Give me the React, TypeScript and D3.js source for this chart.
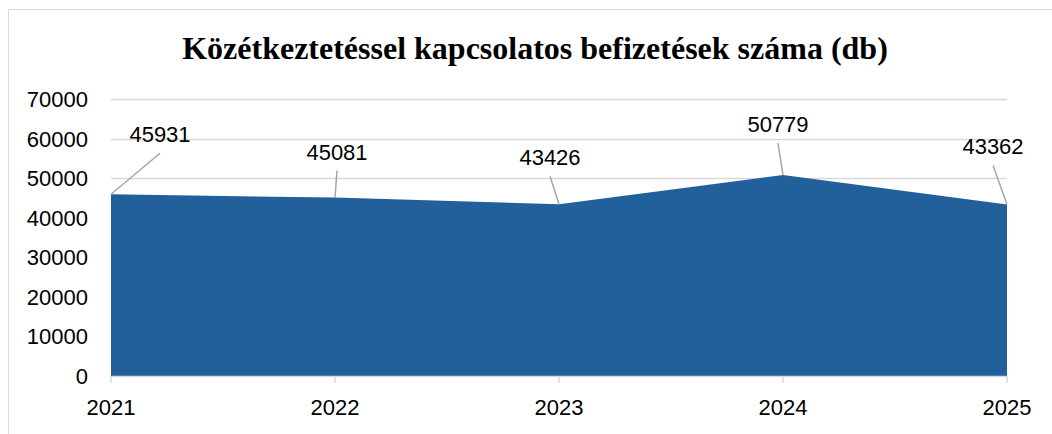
import React, { useEffect, useRef } from 'react';
import * as d3 from 'd3';

// chart data
const years = ['2021', '2022', '2023', '2024', '2025'];
const payments = [45931, 45081, 43426, 50779, 43362];
const yTicks = [0, 10000, 20000, 30000, 40000, 50000, 60000, 70000];

// where each data label sits, relative to its point (label centre x, baseline y)
const labelDx = [49, 2, -9, -5, -14];
const labelDy = [-52, -38, -39, -43, -50];

const App = () => {
  const chartRef = useRef<SVGSVGElement>(null);

  useEffect(() => {
    const width = 1052;
    const height = 434;
    const margin = { left: 111, right: 45, top: 99, bottom: 58 };

    const svg = d3.select(chartRef.current);
    svg.selectAll('*').remove();

    svg.append('rect')
      .attr('width', width)
      .attr('height', height)
      .attr('fill', '#ffffff');

    // outer chart frame (runs off the right and bottom of the picture)
    svg.append('rect')
      .attr('x', 8.5)
      .attr('y', 9.5)
      .attr('width', 1200)
      .attr('height', 600)
      .attr('fill', 'none')
      .attr('stroke', '#d9d9d9')
      .attr('stroke-width', 1);

    const x = d3.scalePoint()
      .domain(years)
      .range([margin.left, width - margin.right]);

    const y = d3.scaleLinear()
      .domain([0, 70000])
      .range([height - margin.bottom, margin.top]);

    // title
    svg.append('text')
      .attr('x', 535)
      .attr('y', 59)
      .attr('text-anchor', 'middle')
      .attr('font-family', '"Liberation Serif", "Times New Roman", serif')
      .attr('font-weight', 'bold')
      .attr('font-size', 32)
      .attr('fill', '#000')
      .text('Közétkeztetéssel kapcsolatos befizetések száma (db)');

    // gridlines
    svg.append('g')
      .selectAll('line')
      .data(yTicks.filter(d => d > 0))
      .join('line')
      .attr('x1', margin.left)
      .attr('x2', width - margin.right)
      .attr('y1', d => Math.round(y(d)) + 0.5)
      .attr('y2', d => Math.round(y(d)) + 0.5)
      .attr('stroke', '#d9d9d9')
      .attr('stroke-width', 1.5);

    // area
    const area = d3.area<number>()
      .x((_, i) => x(years[i]) as number)
      .y0(y(0))
      .y1(d => y(d));

    svg.append('path')
      .datum(payments)
      .attr('d', area)
      .attr('fill', '#22609b');

    // x axis line and ticks
    const xAxis = svg.append('g');
    xAxis.append('line')
      .attr('x1', margin.left)
      .attr('x2', width - margin.right)
      .attr('y1', y(0) + 0.5)
      .attr('y2', y(0) + 0.5)
      .attr('stroke', '#d9d9d9')
      .attr('stroke-width', 1.5);
    xAxis.selectAll('line.tick')
      .data(years)
      .join('line')
      .attr('class', 'tick')
      .attr('x1', d => x(d) as number)
      .attr('x2', d => x(d) as number)
      .attr('y1', y(0))
      .attr('y2', y(0) + 7)
      .attr('stroke', '#d9d9d9')
      .attr('stroke-width', 1.5);

    const font = '"Liberation Sans", Arial, sans-serif';

    xAxis.selectAll('text')
      .data(years)
      .join('text')
      .attr('x', d => x(d) as number)
      .attr('y', 415)
      .attr('text-anchor', 'middle')
      .attr('font-family', font)
      .attr('font-size', 22)
      .attr('fill', '#000')
      .text(d => d);

    // y axis labels
    svg.append('g')
      .selectAll('text')
      .data(yTicks)
      .join('text')
      .attr('x', 88)
      .attr('y', d => y(d) + 8)
      .attr('text-anchor', 'end')
      .attr('font-family', font)
      .attr('font-size', 22)
      .attr('fill', '#000')
      .text(d => d);

    // data labels with leader lines
    const labels = svg.append('g');
    payments.forEach((v, i) => {
      const px = x(years[i]) as number;
      const py = y(v);
      const lx = px + labelDx[i];
      const ly = py + labelDy[i];
      labels.append('line')
        .attr('x1', px)
        .attr('y1', py)
        .attr('x2', lx)
        .attr('y2', ly + 11)
        .attr('stroke', '#a6a6a6')
        .attr('stroke-width', 1.5);
      labels.append('text')
        .attr('x', lx)
        .attr('y', ly)
        .attr('text-anchor', 'middle')
        .attr('font-family', font)
        .attr('font-size', 22)
        .attr('fill', '#000')
        .text(v);
    });
  }, []);

  return (
    <svg
      ref={chartRef}
      width={1052}
      height={434}
      style={{ position: 'absolute', left: 0, top: 0, display: 'block' }}
    />
  );
};

export default App;
